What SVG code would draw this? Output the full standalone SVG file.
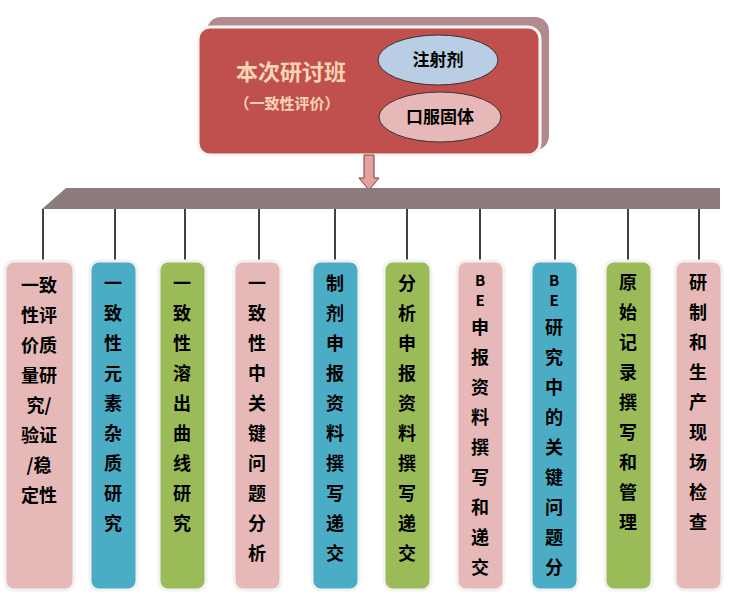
<svg xmlns="http://www.w3.org/2000/svg" width="730" height="601" viewBox="0 0 730 601">
<style>
.t{font-family:"Noto Sans CJK SC","Liberation Sans",sans-serif;font-weight:bold;font-size:18px;fill:#000;text-anchor:middle}
.bx{stroke:#f2f2f2;stroke-width:3}
.ln{stroke:#000;stroke-width:1.5}
.s{font-size:15px}
</style>
<rect width="730" height="601" fill="#fff"/>
<g id="top">
<rect x="207" y="17" width="342" height="133" rx="14" fill="#b08a8e"/>
<rect x="198" y="27" width="342" height="128" rx="12" fill="#c0504d" stroke="#f5f5f5" stroke-width="3"/>
<text x="291" y="80" style="font-family:'Noto Sans CJK SC',sans-serif;font-weight:bold;font-size:22px;fill:#fbd4b4;text-anchor:middle">本次研讨班</text>
<text x="287" y="109" style="font-family:'Noto Sans CJK SC',sans-serif;font-weight:bold;font-size:15px;fill:#fbd4b4;text-anchor:middle">（一致性评价）</text>
<ellipse cx="438" cy="60" rx="60" ry="25" fill="#b9cde5" stroke="#333" stroke-width="1"/>
<text class="t" x="438" y="66" style="font-size:17px">注射剂</text>
<ellipse cx="440" cy="117" rx="61" ry="25" fill="#e6b9b8" stroke="#333" stroke-width="1"/>
<text class="t" x="440" y="123" style="font-size:17px">口服固体</text>
</g>
<g id="connectors">
<polygon points="364,155 374,155 374,178 379,178 369,190 359,178 364,178" fill="#e6a0a0" stroke="#7a3b3b" stroke-width="1"/>
<polygon points="42,209 66,188 720,188 720,209" fill="#8c7b7d"/>
<g class="ln">
<line x1="43" y1="209" x2="43" y2="261"/><line x1="115" y1="209" x2="115" y2="261"/>
<line x1="185" y1="209" x2="185" y2="261"/><line x1="259" y1="209" x2="259" y2="261"/>
<line x1="335" y1="209" x2="335" y2="261"/><line x1="407" y1="209" x2="407" y2="261"/>
<line x1="480" y1="209" x2="480" y2="261"/><line x1="555" y1="209" x2="555" y2="261"/>
<line x1="628" y1="209" x2="628" y2="261"/><line x1="699" y1="209" x2="699" y2="261"/>
</g>
</g>
<g id="n1"><rect class="bx" x="5" y="261" width="69" height="329" rx="9" fill="#e6b9b8"/>
<text class="t" x="39" y="292">一致<tspan x="39" dy="30">性评</tspan><tspan x="39" dy="30">价质</tspan><tspan x="39" dy="30">量研</tspan><tspan x="39" dy="30">究/</tspan><tspan x="39" dy="30">验证</tspan><tspan x="39" dy="30">/稳</tspan><tspan x="39" dy="30">定性</tspan></text></g>
<g id="n2"><rect class="bx" x="90" y="261" width="47" height="329" rx="9" fill="#4bacc6"/>
<text class="t" x="113" y="290">一<tspan x="113" dy="30">致</tspan><tspan x="113" dy="30">性</tspan><tspan x="113" dy="30">元</tspan><tspan x="113" dy="30">素</tspan><tspan x="113" dy="30">杂</tspan><tspan x="113" dy="30">质</tspan><tspan x="113" dy="30">研</tspan><tspan x="113" dy="30">究</tspan></text></g>
<g id="n3"><rect class="bx" x="159" y="261" width="47" height="329" rx="9" fill="#9bbb59"/>
<text class="t" x="182" y="290">一<tspan x="182" dy="30">致</tspan><tspan x="182" dy="30">性</tspan><tspan x="182" dy="30">溶</tspan><tspan x="182" dy="30">出</tspan><tspan x="182" dy="30">曲</tspan><tspan x="182" dy="30">线</tspan><tspan x="182" dy="30">研</tspan><tspan x="182" dy="30">究</tspan></text></g>
<g id="n4"><rect class="bx" x="234" y="261" width="47" height="329" rx="9" fill="#e6b9b8"/>
<text class="t" x="257" y="290">一<tspan x="257" dy="30">致</tspan><tspan x="257" dy="30">性</tspan><tspan x="257" dy="30">中</tspan><tspan x="257" dy="30">关</tspan><tspan x="257" dy="30">键</tspan><tspan x="257" dy="30">问</tspan><tspan x="257" dy="30">题</tspan><tspan x="257" dy="30">分</tspan><tspan x="257" dy="30">析</tspan></text></g>
<g id="n5"><rect class="bx" x="312" y="261" width="47" height="329" rx="9" fill="#4bacc6"/>
<text class="t" x="335" y="290">制<tspan x="335" dy="30">剂</tspan><tspan x="335" dy="30">申</tspan><tspan x="335" dy="30">报</tspan><tspan x="335" dy="30">资</tspan><tspan x="335" dy="30">料</tspan><tspan x="335" dy="30">撰</tspan><tspan x="335" dy="30">写</tspan><tspan x="335" dy="30">递</tspan><tspan x="335" dy="30">交</tspan></text></g>
<g id="n6"><rect class="bx" x="384" y="261" width="47" height="329" rx="9" fill="#9bbb59"/>
<text class="t" x="407" y="290">分<tspan x="407" dy="30">析</tspan><tspan x="407" dy="30">申</tspan><tspan x="407" dy="30">报</tspan><tspan x="407" dy="30">资</tspan><tspan x="407" dy="30">料</tspan><tspan x="407" dy="30">撰</tspan><tspan x="407" dy="30">写</tspan><tspan x="407" dy="30">递</tspan><tspan x="407" dy="30">交</tspan></text></g>
<g id="n7"><rect class="bx" x="457" y="261" width="47" height="329" rx="9" fill="#e6b9b8"/>
<text class="t" x="480" y="286"><tspan class="s">B</tspan><tspan class="s" x="480" dy="20">E</tspan><tspan x="480" dy="28">申</tspan><tspan x="480" dy="30">报</tspan><tspan x="480" dy="30">资</tspan><tspan x="480" dy="30">料</tspan><tspan x="480" dy="30">撰</tspan><tspan x="480" dy="30">写</tspan><tspan x="480" dy="30">和</tspan><tspan x="480" dy="30">递</tspan><tspan x="480" dy="30">交</tspan></text></g>
<g id="n8"><rect class="bx" x="531" y="261" width="47" height="329" rx="9" fill="#4bacc6"/>
<text class="t" x="554" y="286"><tspan class="s">B</tspan><tspan class="s" x="554" dy="20">E</tspan><tspan x="554" dy="28">研</tspan><tspan x="554" dy="30">究</tspan><tspan x="554" dy="30">中</tspan><tspan x="554" dy="30">的</tspan><tspan x="554" dy="30">关</tspan><tspan x="554" dy="30">键</tspan><tspan x="554" dy="30">问</tspan><tspan x="554" dy="30">题</tspan><tspan x="554" dy="30">分</tspan></text></g>
<g id="n9"><rect class="bx" x="605" y="261" width="47" height="329" rx="9" fill="#9bbb59"/>
<text class="t" x="628" y="289">原<tspan x="628" dy="30">始</tspan><tspan x="628" dy="30">记</tspan><tspan x="628" dy="30">录</tspan><tspan x="628" dy="30">撰</tspan><tspan x="628" dy="30">写</tspan><tspan x="628" dy="30">和</tspan><tspan x="628" dy="30">管</tspan><tspan x="628" dy="30">理</tspan></text></g>
<g id="n10"><rect class="bx" x="675" y="261" width="47" height="329" rx="9" fill="#e6b9b8"/>
<text class="t" x="698" y="289">研<tspan x="698" dy="30">制</tspan><tspan x="698" dy="30">和</tspan><tspan x="698" dy="30">生</tspan><tspan x="698" dy="30">产</tspan><tspan x="698" dy="30">现</tspan><tspan x="698" dy="30">场</tspan><tspan x="698" dy="30">检</tspan><tspan x="698" dy="30">查</tspan></text></g>
</svg>
